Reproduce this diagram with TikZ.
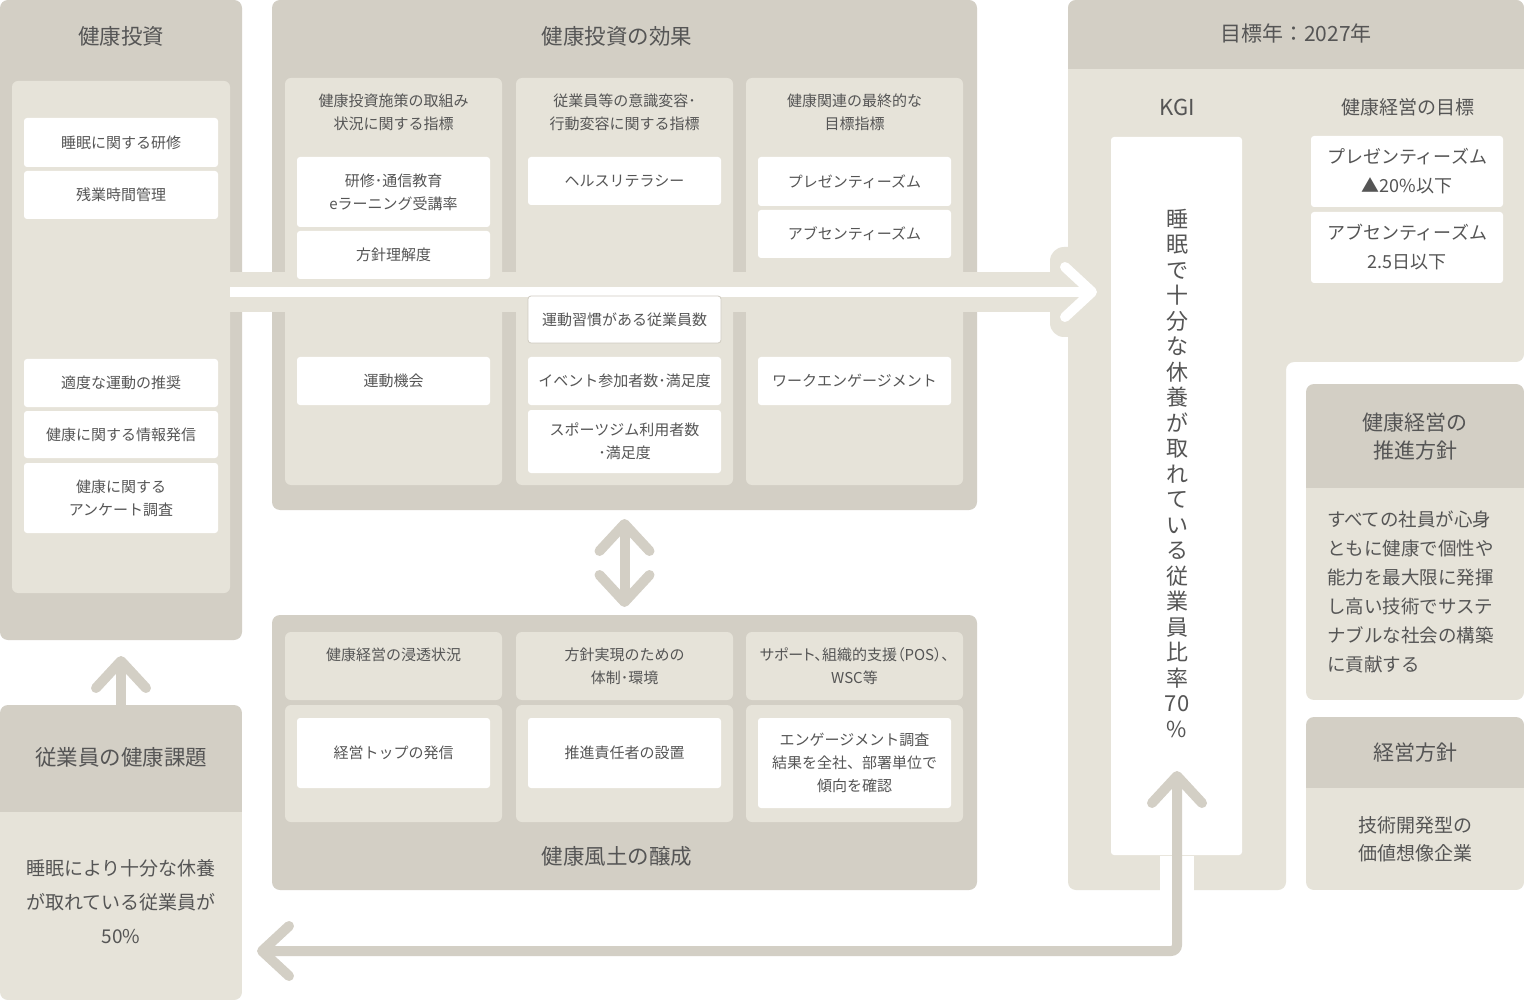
\documentclass[tikz,border=0pt]{standalone}
\usepackage{fontspec}
\setmainfont{Noto Sans CJK JP}
\usetikzlibrary{arrows.meta}
\definecolor{dk}{HTML}{D3CFC5}
\definecolor{lt}{HTML}{E6E3D9}
\definecolor{tx}{HTML}{555555}
\definecolor{bd}{HTML}{CFCBC1}
\newcommand\bx[7]{\node[#6, minimum width={(#4)-(#2)}, minimum height={(#5)-(#3)}] (#1) at ({((#2)+(#4))/2},{((#3)+(#5))/2}) {#7};}
\tikzset{
  bse/.style={inner sep=0pt, outer sep=0pt, text=tx},
  darkp/.style={bse, fill=dk, rounded corners=8pt},
  col/.style={bse, fill=lt, rounded corners=6pt},
  wbox/.style={bse, fill=white, rounded corners=3pt, align=center, font=\fontsize{15}{23}\selectfont},
  ttl/.style={bse, font=\fontsize{21.5}{28}\selectfont, align=center},
  hdr/.style={bse, font=\fontsize{15}{23}\selectfont, align=center},
  arr/.style={line width=10pt, draw=dk, line cap=round},
  >={Straight Barb[length=27pt,width=50pt,round]}
}
\begin{document}
\begin{tikzpicture}[x=1pt,y=-1pt]
\useasboundingbox (0,0) rectangle (1524,1000);
\fill[white] (0,0) rectangle (1524,1000);

% ---------- right panel (goal year) ----------
\fill[lt, rounded corners=8pt] (1068,0) -- (1524,0) -- (1524,362) -- (1286,362) -- (1286,890) -- (1068,890) -- cycle;
\begin{scope}
  \clip (1068,0) rectangle (1524,69);
  \fill[dk, rounded corners=8pt] (1068,0) rectangle (1524,120);
\end{scope}
\node[ttl, font=\fontsize{21}{26}\selectfont] (goalT) at (1296,33) {目標年：2027年};
\node[ttl, font=\fontsize{22}{26}\selectfont] (kgiT) at (1177,107) {KGI};
\node[ttl, font=\fontsize{19}{26}\selectfont] (tgtT) at (1408,107) {健康経営の目標};
\bx{kgibox}{1111}{137}{1242}{855}{bse,fill=white,rounded corners=3pt}{}
\node[bse, align=center, font=\fontsize{22}{25.5}\selectfont] (kgitext) at (1177,473)
  {睡\\眠\\で\\十\\分\\な\\休\\養\\が\\取\\れ\\て\\い\\る\\従\\業\\員\\比\\率\\70\\\%};
\bx{g1}{1311}{136}{1503}{207}{wbox,font=\fontsize{18}{29}\selectfont}{プレゼンティーズム\\▲20\%以下}
\bx{g2}{1311}{212}{1503}{283}{wbox,font=\fontsize{18}{29}\selectfont}{アブセンティーズム\\2.5日以下}

% promotion policy
\begin{scope}
  \clip[rounded corners=8pt] (1306,384) rectangle (1524,700);
  \fill[dk] (1306,384) rectangle (1524,488);
  \fill[lt] (1306,488) rectangle (1524,700);
\end{scope}
\node[ttl, font=\fontsize{21}{28}\selectfont] (promT) at (1415,437) {健康経営の\\推進方針};
\node[bse, anchor=west, align=left, font=\fontsize{18.5}{29}\selectfont] (promB) at (1327,591.5)
  {すべての社員が心身\\ともに健康で個性や\\能力を最大限に発揮\\し高い技術でサステ\\ナブルな社会の構築\\に貢献する};

% management policy
\begin{scope}
  \clip[rounded corners=8pt] (1306,717) rectangle (1524,890);
  \fill[dk] (1306,717) rectangle (1524,788);
  \fill[lt] (1306,788) rectangle (1524,890);
\end{scope}
\node[ttl, font=\fontsize{21}{28}\selectfont] (mgmtT) at (1415,753) {経営方針};
\node[ttl, font=\fontsize{19}{28}\selectfont] (mgmtB) at (1415,839) {技術開発型の\\価値想像企業};

% ---------- left panel (investment) ----------
\bx{invest}{0}{0}{242}{640}{darkp}{}
\node[ttl] (investT) at (121,36) {健康投資};
\bx{investin}{12}{81}{230}{593}{col}{}
\bx{i1}{24}{118}{218}{167}{wbox}{睡眠に関する研修}
\bx{i2}{24}{171}{218}{219}{wbox}{残業時間管理}
\bx{i3}{24}{359}{218}{407}{wbox}{適度な運動の推奨}
\bx{i4}{24}{411}{218}{458}{wbox}{健康に関する情報発信}
\bx{i5}{24}{463}{218}{533}{wbox}{健康に関する\\アンケート調査}

% ---------- middle panel (effects) ----------
\bx{effect}{272}{0}{977}{510}{darkp}{}
\node[ttl] (effectT) at (617,36) {健康投資の効果};
\bx{c1}{285}{78}{502}{485}{col}{}
\bx{c2}{516}{78}{733}{485}{col}{}
\bx{c3}{746}{78}{963}{485}{col}{}
\node[hdr] (c1h) at (393.5,112.5) {健康投資施策の取組み\\状況に関する指標};
\node[hdr] (c2h) at (624.5,112.5) {従業員等の意識変容･\\行動変容に関する指標};
\node[hdr] (c3h) at (854.5,112.5) {健康関連の最終的な\\目標指標};

% band with arrow
\bx{band}{230}{272}{1068}{312}{bse,fill=lt}{}
\bx{bump}{1050}{247}{1082}{337}{bse,fill=lt,rounded corners=14pt}{}
\draw[line width=10pt, white, ->, shorten >=14pt] (band.west) -- (kgibox.west |- band.west);

\bx{e1}{297}{157}{490}{227}{wbox}{研修･通信教育\\eラーニング受講率}
\bx{e2}{297}{231}{490}{279}{wbox}{方針理解度}
\bx{e3}{297}{357}{490}{405}{wbox}{運動機会}
\bx{f1}{528}{157}{721}{205}{wbox}{ヘルスリテラシー}
\bx{f2}{528}{296}{721}{343}{wbox,draw=bd,line width=0.8pt}{運動習慣がある従業員数}
\bx{f3}{528}{357}{721}{405}{wbox}{イベント参加者数･満足度}
\bx{f4}{528}{410}{721}{473}{wbox}{スポーツジム利用者数\\･満足度}
\bx{h1}{758}{157}{951}{206}{wbox}{プレゼンティーズム}
\bx{h2}{758}{210}{951}{258}{wbox}{アブセンティーズム}
\bx{h3}{758}{357}{951}{405}{wbox}{ワークエンゲージメント}

% ---------- bottom middle panel (culture) ----------
\bx{culture}{272}{615}{977}{890}{darkp}{}
\bx{k1h}{285}{632}{502}{700}{col}{}
\bx{k2h}{516}{632}{733}{700}{col}{}
\bx{k3h}{746}{632}{963}{700}{col}{}
\bx{k1b}{285}{705}{502}{822}{col}{}
\bx{k2b}{516}{705}{733}{822}{col}{}
\bx{k3b}{746}{705}{963}{822}{col}{}
\node[hdr] (k1t) at (393.5,655) {健康経営の浸透状況};
\node[hdr] (k2t) at (624.5,666.5) {方針実現のための\\体制･環境};
\node[hdr] (k3t) at (854.5,666.5) {\addfontfeatures{RawFeature=+palt}サポート、組織的支援（POS）、\\WSC等};
\bx{m1}{297}{718}{490}{788}{wbox}{経営トップの発信}
\bx{m2}{528}{718}{721}{788}{wbox}{推進責任者の設置}
\bx{m3}{758}{718}{951}{808}{wbox}{エンゲージメント調査\\結果を全社、部署単位で\\傾向を確認}
\node[ttl] (cultureT) at (617,856) {健康風土の醸成};

% ---------- issue panel ----------
\begin{scope}
  \clip[rounded corners=8pt] (0,705) rectangle (242,1000);
  \fill[dk] (0,705) rectangle (242,812);
  \fill[lt] (0,812) rectangle (242,1000);
\end{scope}
\bx{issue}{0}{705}{242}{1000}{bse}{}
\node[ttl] (issueT) at (121,757) {従業員の健康課題};
\node[ttl, font=\fontsize{19}{34}\selectfont] (issueB) at (121,902) {睡眠により十分な休養\\が取れている従業員が\\50\%};

% ---------- arrows ----------
\draw[arr, <->, shorten <=9pt, shorten >=8pt] (effect.south) -- (culture.north);
\draw[arr, ->, shorten >=16pt] (issue.north) -- (invest.south);
\draw[white, line width=34pt] (1177,856) -- (1177,891);
\coordinate (retL) at (257,951);
\coordinate (retC) at (1177,951);
\coordinate (retT) at (1177,771);
\draw[arr, <->, rounded corners=6pt] (retL) -- (retC) -- (retT);
\end{tikzpicture}
\end{document}
